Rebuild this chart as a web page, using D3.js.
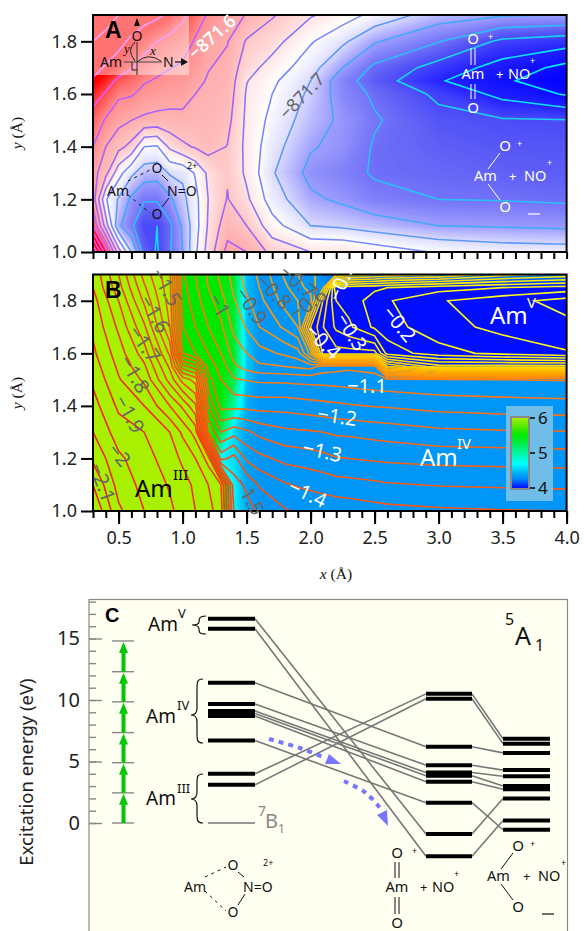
<!DOCTYPE html>
<html>
<head>
<meta charset="utf-8">
<title>Am + NO energy surfaces</title>
<script src="https://d3js.org/d3.v7.min.js"></script>
<style>
html, body { margin: 0; background: #fff; }
svg { display: block; }
text { font-family: "Noto Sans", sans-serif; }
.serif { font-family: "Liberation Serif", serif; }
.tick line { stroke: #000; stroke-width: 2; }
.tick text { fill: #222; font-size: 18px; }
.axisC .tick line { stroke: #888; stroke-width: 1.4; }
</style>
</head>
<body>
<div id="chart"></div>
<script>
// ---- panel A, energy. unit = contour step, 6 is -871.7, 10 is -871.6
const xA = [0.3,0.4,0.5,0.6,0.7,0.8,0.9,1.0,1.1,1.2,1.35,1.5,1.7,2.0,2.25,2.5,3.0,3.5,4.0];
const yA = [1.9,1.8,1.7,1.65,1.6,1.5,1.4,1.3,1.2,1.1,1.0];
const energyA = [
  [14.8,14.4,14,13.7,13.4,13.2,12.8,12.2,11.5,10.9,10.4,9.95,9.1,8.1,7.5,6.7,5.5,5.1,5],
  [14,13.7,13.3,12.8,12.4,12,11.7,11.5,10.9,10.3,10.05,8.9,8.4,7.1,6.2,5.1,4.05,2.8,2.45],
  [13.3,12.9,12.5,12.05,11.6,11.25,11.05,10.85,10.6,10.05,9.75,8.4,7.6,6.4,5,3.8,2.6,1.6,0.7],
  [12.9,12.4,11.8,11.5,11.1,10.9,10.7,10.6,10.3,9.9,9.65,8.05,7.2,6,4.4,3.5,2.1,1.15,0.4],
  [12.4,11.9,11.2,11.1,10.7,10.55,10.4,10.35,10,9.75,9.55,7.9,7,5.8,4.5,3.85,2.8,1.7,0.9],
  [11.6,10.9,10.3,10,9.8,9.7,9.7,9.75,9.6,9.6,9.3,7.8,6.7,5.5,4.8,4.1,3.3,3.1,3.05],
  [11,10,9.3,8.7,7,6.9,8.2,8.8,9.1,9.4,8.97,7.75,6.4,5.1,4.7,3.9,3.55,3.35,3.3],
  [10.4,9.3,7.4,6.2,5.5,5.4,6.1,6.2,7.1,8.2,8.92,7.8,6.1,4.7,4.35,3.9,3.75,3.6,3.5],
  [10.5,7.1,5.9,4.8,4.1,4.1,4.8,5.7,6.7,8,9.05,8.2,6.5,5.2,4.8,4.3,4,3.95,3.85],
  [12,8.5,5.2,4.2,3,3,3.8,5.15,6.6,8.1,9.6,9,7.4,6,5.8,5.5,5,4.9,4.8],
  [16,12.5,8.5,6,3.6,2.9,3.9,5,6.8,8.4,10.3,10,8.7,8,8,7.6,6.9,6.6,6.5]
];
const levelsA = [1,2,3,4,5,6,7,8,9,10,11,12,13,14,15,16];

// ---- panel B, relative energy and Am oxidation state on one grid
const xB = [0.3,0.5,0.7,0.9,1.0,1.1,1.2,1.3,1.4,1.5,1.6,1.8,1.9,2.0,2.1,2.2,2.3,2.5,2.6,3.0,3.5,4.0];
const yB = [1.9,1.85,1.8,1.7,1.6,1.55,1.5,1.4,1.3,1.2,1.1,1.0];
const energyB = [
  [-1.89,-1.75,-1.58,-1.46,-1.16,-1.1,-1.04,-0.985,-0.93,-0.88,-0.84,-0.74,-0.7,-0.66,-0.63,-0.6,-0.58,-0.55,-0.53,-0.5,-0.42,-0.38],
  [-1.9,-1.77,-1.61,-1.465,-1.17,-1.11,-1.05,-1,-0.94,-0.89,-0.85,-0.76,-0.72,-0.68,-0.6,-0.25,-0.27,-0.26,-0.25,-0.22,-0.2,-0.18],
  [-1.92,-1.8,-1.64,-1.475,-1.18,-1.12,-1.07,-1.02,-0.955,-0.91,-0.865,-0.78,-0.75,-0.72,-0.44,-0.3,-0.28,-0.225,-0.205,-0.155,-0.12,-0.08],
  [-1.94,-1.84,-1.71,-1.5,-1.2,-1.15,-1.1,-1.06,-0.985,-0.945,-0.9,-0.84,-0.8,-0.5,-0.4,-0.34,-0.31,-0.24,-0.22,-0.17,-0.135,-0.115],
  [-1.96,-1.875,-1.775,-1.59,-1.25,-1.2,-1.15,-1.1,-1.03,-1,-0.97,-0.94,-0.92,-0.78,-0.42,-0.42,-0.42,-0.42,-0.28,-0.22,-0.185,-0.155],
  [-1.975,-1.89,-1.81,-1.64,-1.42,-1.37,-1.18,-1.13,-1.06,-1.03,-1.01,-1,-0.99,-0.98,-1.02,-1.03,-1.04,-1.03,-0.55,-0.42,-0.42,-0.42],
  [-1.99,-1.905,-1.84,-1.68,-1.58,-1.53,-1.22,-1.15,-1.105,-1.097,-1.09,-1.088,-1.085,-1.083,-1.082,-1.08,-1.075,-1.068,-1.064,-1.055,-1.05,-1.047],
  [-2.02,-1.94,-1.9,-1.8,-1.74,-1.66,-1.3,-1.183,-1.185,-1.183,-1.18,-1.18,-1.175,-1.17,-1.165,-1.16,-1.155,-1.147,-1.145,-1.132,-1.125,-1.12],
  [-2.05,-1.975,-1.95,-1.9,-1.84,-1.78,-1.4,-1.3,-1.33,-1.31,-1.285,-1.262,-1.258,-1.255,-1.25,-1.242,-1.24,-1.232,-1.228,-1.212,-1.206,-1.203],
  [-2.09,-2.01,-1.97,-1.925,-1.89,-1.85,-1.78,-1.43,-1.47,-1.39,-1.365,-1.335,-1.33,-1.323,-1.315,-1.303,-1.3,-1.293,-1.29,-1.283,-1.28,-1.277],
  [-2.15,-2.03,-1.985,-1.945,-1.92,-1.89,-1.85,-1.8,-1.52,-1.49,-1.445,-1.405,-1.395,-1.388,-1.38,-1.372,-1.368,-1.36,-1.355,-1.347,-1.343,-1.34],
  [-2.2,-2.06,-2,-1.96,-1.93,-1.9,-1.87,-1.82,-1.55,-1.52,-1.49,-1.455,-1.445,-1.44,-1.437,-1.433,-1.43,-1.42,-1.416,-1.408,-1.403,-1.4]
];
const stateB = [
  [6,6,6,6,5.5,5.5,5.5,5.5,5.4,4.5,4.35,4.35,4.35,4.35,4.3,4.3,4.3,4.3,4.3,4.3,4.3,4.3],
  [6,6,6,6,5.5,5.5,5.5,5.5,5.4,4.5,4.35,4.35,4.35,4.35,4.35,4.05,4.05,4.05,4.05,4.05,4.05,4.05],
  [6,6,6,6,5.5,5.5,5.5,5.5,5.4,4.5,4.35,4.35,4.35,4.35,4.05,4.05,4.05,4.05,4.05,4.05,4.05,4.05],
  [6,6,6,6,5.5,5.5,5.5,5.5,5.4,4.5,4.35,4.35,4.35,4.05,4.05,4.05,4.05,4.05,4.05,4.05,4.05,4.05],
  [6,6,6,6,5.5,5.5,5.5,5.5,5.4,4.55,4.35,4.35,4.35,4.35,4.05,4.05,4.05,4.05,4.05,4.05,4.05,4.05],
  [6,6,6,6,5.7,5.6,5.5,5.5,5.4,4.55,4.35,4.35,4.35,4.35,4.35,4.35,4.35,4.35,4.1,4.1,4.1,4.1],
  [6,6,6,6,6,6,5.5,5.5,5.3,4.5,4.35,4.35,4.35,4.35,4.35,4.35,4.35,4.35,4.35,4.35,4.35,4.35],
  [6,6,6,6,6,6,5.5,5.5,5,4.45,4.35,4.35,4.35,4.35,4.35,4.35,4.35,4.35,4.35,4.35,4.35,4.35],
  [6,6,6,6,6,6,5.7,5.3,4.6,4.4,4.35,4.35,4.35,4.35,4.35,4.35,4.35,4.35,4.35,4.35,4.35,4.35],
  [6,6,6,6,6,6,6,4.7,4.6,4.4,4.35,4.35,4.35,4.35,4.35,4.35,4.35,4.35,4.35,4.35,4.35,4.35],
  [6,6,6,6,6,6,6,6,4.7,4.42,4.35,4.35,4.35,4.35,4.35,4.35,4.35,4.35,4.35,4.35,4.35,4.35],
  [6,6,6,6,6,6,6,6,4.7,4.42,4.35,4.35,4.35,4.35,4.35,4.35,4.35,4.35,4.35,4.35,4.35,4.35]
];
const levelsB = d3.range(-44, -1).map(k => k * 0.05);

// ---- panel C, excitation energies (eV)
const statesLeft   = [16.6,15.8,11.4,9.67,9.1,8.9,8.7,6.7,4.0,3.1];
const statesMiddle = [-0.9,-2.7,6.2,4.7,4.1,3.85,3.35,1.65,10.5,10.1];
const statesRight  = [2.0,0.2,5.7,4.3,3.8,3.0,2.75,-0.55,6.85,6.45];
const ladder = [0,2.45,4.9,7.35,9.85,12.3,14.8];

// ---- layout
const width = 584, height = 931;
const x = d3.scaleLinear().domain([0.3, 4.0]).range([93, 566.6]);
const yTopA = d3.scaleLinear().domain([1.0, 1.9]).range([252, 15]);
const yTopB = d3.scaleLinear().domain([1.0, 1.9]).range([511, 274.5]);
const yC = d3.scaleLinear().domain([0, 15]).range([823, 638.5]);

const colorA = d3.scaleLinear()
  .domain([0.3,2,3.5,5,6,7,8,9,10,11,12,12.7])
  .range(["#0000ff","#2222ff","#5e5ef6","#a0a0fd","#dcdcff","#ffffff","#ffe4e4","#ffc4c4","#ffacac","#ff8c8c","#ff4848","#ff0000"])
  .clamp(true);
const lineA = d3.scaleLinear()
  .domain([1,3,5,7,9,11,12,13])
  .range(["#00f0ff","#18d4f4","#44a8fa","#7a88ff","#9a68f4","#b860ff","#e858ff","#ff50ff"])
  .clamp(true);
const colorB = d3.scaleLinear()
  .domain([4,4.1,4.3,4.4,4.7,5.2,5.5,6])
  .range(["#0000ff","#0030ff","#0090f8","#00a4f4","#00ffff","#00f060","#00e800","#b0f000"])
  .clamp(true);
const lineB = d3.scaleLinear()
  .domain([-2.2,-1.5,-1.2,-1.0,-0.7,-0.5,-0.3,-0.1])
  .range(["#f01818","#ff4a10","#ff6a10","#ff8410","#ffac00","#ffd000","#fff000","#ffff20"])
  .clamp(true);

const svg = d3.select("#chart").append("svg").attr("width", width).attr("height", height);

// grid index to pixels, grids may be uneven. d3.contours puts a node at index + 0.5
function gridPath(xs, ys, yScale) {
  const ix = d3.scaleLinear().domain(xs.map((d, i) => i + 0.5)).range(xs.map(d => x(d)));
  const iy = d3.scaleLinear().domain(ys.map((d, i) => i + 0.5)).range(ys.map(d => yScale(d)));
  return d3.geoPath(d3.geoTransform({
    point(px, py) { this.stream.point(ix(px), iy(py)); }
  }));
}

function contourLayer(g, grid, xs, ys, yScale, thresholds, style) {
  const contours = d3.contours().size([xs.length, ys.length]).thresholds(thresholds)(grid.flat());
  const path = gridPath(xs, ys, yScale);
  g.append("g").selectAll("path").data(contours).join("path")
    .attr("d", path)
    .each(function(d) { style(d3.select(this), d.value); });
}

function clipped(id, yScale) {
  svg.append("clipPath").attr("id", id).append("rect")
    .attr("x", x(0.3)).attr("y", yScale(1.9))
    .attr("width", x(4) - x(0.3)).attr("height", yScale(1) - yScale(1.9));
  return svg.append("g").attr("clip-path", `url(#${id})`);
}

function axes(yScale, longX) {
  const bottom = yScale(1);
  const minor = d3.axisBottom(x).tickValues(d3.range(3, 41).map(k => k / 10)).tickSize(7).tickFormat("");
  svg.append("g").attr("transform", `translate(0,${bottom})`).call(minor).call(g => g.select(".domain").remove());
  if (longX) {
    const major = d3.axisBottom(x).tickValues([0.5,1,1.5,2,2.5,3,3.5,4]).tickSize(13).tickPadding(7).tickFormat(d3.format(".1f"));
    svg.append("g").attr("transform", `translate(0,${bottom})`).call(major).call(g => g.select(".domain").remove());
  }
  const left = d3.axisLeft(yScale).tickValues([1,1.2,1.4,1.6,1.8]).tickSize(12).tickPadding(4).tickFormat(d3.format(".1f"));
  svg.append("g").attr("transform", `translate(${x(0.3)},0)`).call(left).call(g => g.select(".domain").remove());
  svg.append("rect").attr("x", x(0.3)).attr("y", yScale(1.9))
    .attr("width", x(4) - x(0.3)).attr("height", bottom - yScale(1.9))
    .attr("fill", "none").attr("stroke", "#000").attr("stroke-width", 2);
}

function text(g, px, py, s, size, fill, opts) {
  opts = opts || {};
  const t = g.append("text").attr("x", px).attr("y", py).text(s)
    .attr("font-size", size).attr("fill", fill || "#000")
    .attr("text-anchor", opts.anchor || "start");
  if (opts.bold) t.attr("font-weight", "bold").style("font-family", "'Liberation Sans', sans-serif");
  if (opts.serif) t.attr("class", "serif");
  if (opts.italic) t.attr("font-style", "italic");
  if (opts.rotate != null) t.attr("text-anchor", "middle").attr("dominant-baseline", "middle")
    .attr("transform", `rotate(${opts.rotate} ${px} ${py})`);
  return t;
}

function seg(g, x1, y1, x2, y2, color, w, dash) {
  const l = g.append("line").attr("x1", x1).attr("y1", y1).attr("x2", x2).attr("y2", y2)
    .attr("stroke", color).attr("stroke-width", w || 1);
  if (dash) l.attr("stroke-dasharray", dash);
  return l;
}

function axisTitle(t, letter) {
  t.text(null);
  t.append("tspan").attr("font-style", "italic").text(letter);
  t.append("tspan").text(" (Å)");
}

// ---- panel A
const gA = clipped("clipA", yTopA);
gA.append("rect").attr("x", 0).attr("y", 0).attr("width", width).attr("height", 300).attr("fill", colorA(0));
contourLayer(gA, energyA, xA, yA, yTopA, d3.range(0.3, 12.8, 0.06),
  (p, v) => p.attr("fill", colorA(v)));
contourLayer(gA, energyA, xA, yA, yTopA, levelsA,
  (p, v) => p.attr("fill", "none").attr("stroke", lineA(v)).attr("stroke-width", 1.6));
gA.append("rect").attr("x", 93).attr("y", 15).attr("width", 96).attr("height", 60).attr("fill", "#fff").attr("fill-opacity", 0.45);
axes(yTopA, false);

text(svg, 105, 38, "A", 23, "#000", {bold: true});
text(svg, 213, 38, "−871.6", 18, "#fff", {rotate: -42}).attr("font-weight", 600);
text(svg, 303, 97, "−871.7", 18, "#666", {rotate: -46});

// coordinate sketch in the corner
text(svg, 100, 67, "Am", 14, "#111");
text(svg, 163, 67, "N", 14, "#111");
text(svg, 137, 41, "O", 14, "#111", {anchor: "middle"});
seg(svg, 124, 62, 162, 62, "#444", 1.2);
seg(svg, 137, 42, 137, 75, "#444", 1.2);
seg(svg, 175, 62, 183, 62, "#111", 1.2);
svg.append("path").attr("d", "M181 58 L188 62 L181 66 Z").attr("fill", "#111");
svg.append("path").attr("d", "M134 26 L137 18 L140 26 Z").attr("fill", "#111");
svg.append("path").attr("d", "M135 42 Q126 50 135 61 M137 62 Q148 52 161 61 M132 62 V70 H137").attr("fill", "none").attr("stroke", "#222");
text(svg, 124, 53, "y", 13, "#111", {serif: true, italic: true});
text(svg, 150, 55, "x", 13, "#111", {serif: true, italic: true});

function peroxo(g, ax, nx, base, oTop, oBot, c) {
  text(g, ax, base, "Am", 14, c);
  text(g, nx, base, "N=O", 14, c);
  text(g, nx - 10, oTop + 5, "O", 14, c, {anchor: "middle"});
  text(g, nx - 10, oBot + 5, "O", 14, c, {anchor: "middle"});
  text(g, nx + 20, oTop + 1, "2+", 9, c);
  seg(g, nx - 5, oTop + 7, nx + 1, base - 15, c, 1);
  seg(g, nx + 2, base + 2, nx - 5, oBot - 7, c, 1);
  seg(g, ax + 21, base - 15, nx - 17, oTop + 2, c, 1, "3 4");
  seg(g, ax + 21, base - 1, nx - 17, oBot - 1, c, 1, "3 4");
}
peroxo(svg, 107, 167, 196, 168, 214, "#111");

function dioxo(g, cx, top, base, bot, nox, c) {
  text(g, cx, top + 5, "O", 15, c, {anchor: "middle"});
  text(g, cx, bot + 5, "O", 15, c, {anchor: "middle"});
  text(g, cx + 15, top + 1, "+", 9, c);
  text(g, cx, base, "Am", 14.5, c, {anchor: "middle"});
  text(g, cx + 23, base, "+", 13, c);
  text(g, nox, base, "NO", 14.5, c);
  text(g, nox + 22, base - 15, "+", 9, c);
  [-2, 2].forEach(d => {
    seg(g, cx + d, top + 9, cx + d, base - 14, c, 1);
    seg(g, cx + d, base + 5, cx + d, bot - 9, c, 1);
  });
}
function bent(g, ox, top, amx, base, bot, nox, c) {
  text(g, ox, top + 5, "O", 15, c, {anchor: "middle"});
  text(g, ox, bot + 5, "O", 15, c, {anchor: "middle"});
  text(g, ox + 12, top + 1, "+", 9, c);
  text(g, amx, base, "Am", 14.5, c);
  text(g, nox - 15, base, "+", 13, c);
  text(g, nox, base, "NO", 14.5, c);
  text(g, nox + 23, base - 15, "+", 9, c);
  seg(g, ox - 5, top + 7, amx + 14, base - 12, c, 1);
  seg(g, amx + 14, base + 3, ox - 5, bot - 7, c, 1);
  seg(g, nox + 4, bot + 7, nox + 16, bot + 7, c, 1.2);
}
dioxo(svg, 473, 39, 79, 108, 508, "#fff");
bent(svg, 505, 146, 474, 181, 207, 524, "#fff");

// ---- panel B
const gB = clipped("clipB", yTopB);
gB.append("rect").attr("x", 0).attr("y", 200).attr("width", width).attr("height", 400).attr("fill", colorB(4));
contourLayer(gB, stateB, xB, yB, yTopB, d3.range(4.03, 6.01, 0.03),
  (p, v) => p.attr("fill", colorB(v)));
contourLayer(gB, energyB, xB, yB, yTopB, levelsB,
  (p, v) => p.attr("fill", "none").attr("stroke", lineB(v)).attr("stroke-width", 1.6));
axes(yTopB, true);

text(svg, 105, 298, "B", 23, "#000", {bold: true});
const greyLabels = [
  ["−1.5",165,288,60],["−1.6",153,315,60],["−1.7",143,345,55],["−1.8",133,375,60],
  ["−1.9",128,415,60],["−2",118,456,50],["−2.1",101,483,70],["−1",218,306,60],
  ["−0.9",250,307,55],["−0.8",273,293,45],["−0.7",297,283,40],["−0.6",309,305,-36],["−1.5",248,497,60]
];
const whiteLabels = [
  ["−0.4",322,343,45],["−0.3",350,333,58],["−0.2",398,325,50],["−0.5",343,282,-68],
  ["−1.1",367,388,0],["−1.2",337,418,8],["−1.3",322,453,12],["−1.4",307,495,25]
];
greyLabels.forEach(d => text(svg, d[1], d[2], d[0], 20, "#666", {rotate: d[3]}));
whiteLabels.forEach(d => text(svg, d[1], d[2], d[0], 20, "#fff", {rotate: d[3]}));

text(svg, 135, 497, "Am", 24, "#000");
text(svg, 173, 480, "III", 15, "#000");
text(svg, 490, 324, "Am", 24, "#fff");
text(svg, 527, 308, "V", 15, "#fff");
text(svg, 420, 466, "Am", 24, "#fff");
text(svg, 457, 449, "IV", 15, "#fff");

// colour key
const key = d3.scaleLinear().domain([4, 6]).range([488, 418]);
const grad = svg.append("defs").append("linearGradient").attr("id", "keyGrad").attr("x1", 0).attr("x2", 0).attr("y1", 1).attr("y2", 0);
d3.range(4, 6.01, 0.1).forEach(v => grad.append("stop").attr("offset", `${(v - 4) / 2 * 100}%`).attr("stop-color", colorB(v)));
svg.append("rect").attr("x", 506).attr("y", 406).attr("width", 47).attr("height", 95).attr("fill", "#6fbde8");
svg.append("rect").attr("x", 511).attr("y", 417).attr("width", 18).attr("height", 72)
  .attr("fill", "url(#keyGrad)").attr("stroke", "#888").attr("stroke-width", 2);
[4, 5, 6].forEach(v => {
  seg(svg, 530, key(v), 535, key(v), "#000", 1.5);
  text(svg, 538, key(v) + 6, v, 17, "#111");
});

// axis titles
axisTitle(text(svg, 18, 133, "", 15.5, "#111", {serif: true, rotate: -90}), "y");
axisTitle(text(svg, 18, 393, "", 15.5, "#111", {serif: true, rotate: -90}), "y");
axisTitle(text(svg, 336, 579, "", 15.5, "#111", {serif: true, anchor: "middle"}), "x");

// ---- panel C
svg.append("rect").attr("x", 89).attr("y", 599.5).attr("width", 478.5).attr("height", 340)
  .attr("fill", "#fffff2").attr("stroke", "#8c8c80").attr("stroke-width", 1.2);
const minorC = d3.axisLeft(yC).tickValues(d3.range(0, 19)).tickSize(-7).tickFormat("");
svg.append("g").attr("class", "axisC").attr("transform", "translate(89,0)").call(minorC).call(g => g.select(".domain").remove());
const majorC = d3.axisLeft(yC).tickValues([0,5,10,15]).tickSize(-13).tickPadding(9);
svg.append("g").attr("class", "axisC").attr("transform", "translate(89,0)").call(majorC)
  .call(g => g.select(".domain").remove())
  .call(g => g.selectAll("text").style("font-size", "20px"));
text(svg, 28, 772, "Excitation energy (eV)", 18.5, "#222", {rotate: -90});
text(svg, 105, 622, "C", 20, "#000", {bold: true});

const col1 = [208, 255], col2 = [426, 472], col3 = [503, 550];
statesLeft.forEach((e, i) => seg(svg, col1[1], yC(e), col2[0], yC(statesMiddle[i]), "#777", 1.6));
statesMiddle.forEach((e, i) => seg(svg, col2[1], yC(e), col3[0], yC(statesRight[i]), "#777", 1.6));
[[col1, statesLeft], [col2, statesMiddle], [col3, statesRight]].forEach(([c, vals]) => {
  svg.append("g").selectAll("line").data(vals).join("line")
    .attr("x1", c[0]).attr("x2", c[1]).attr("y1", d => yC(d)).attr("y2", d => yC(d))
    .attr("stroke", "#000").attr("stroke-width", 4);
});
seg(svg, col1[0], yC(0), col1[1], yC(0), "#777", 1.6);

// photon ladder
ladder.forEach(e => seg(svg, 112, yC(e), 134, yC(e), "#888", 1.4));
ladder.slice(1).forEach((e, i) => {
  seg(svg, 123.5, yC(ladder[i]), 123.5, yC(e) + 9, "#00c800", 4);
  svg.append("path").attr("fill", "#00c800")
    .attr("d", `M123.5 ${yC(e) + 1} L128 ${yC(e) + 12} L119 ${yC(e) + 12} Z`);
});

// braces
function brace(g, xr, xl, top, bot, mid) {
  g.append("path").attr("fill", "none").attr("stroke", "#111").attr("stroke-width", 1.2)
    .attr("d", `M${xr} ${top} C${xl} ${top} ${xl} ${top + 3} ${xl} ${top + 10} L${xl} ${mid - 7} C${xl} ${mid - 2} ${xl - 3} ${mid} ${xl - 6} ${mid} C${xl - 3} ${mid} ${xl} ${mid + 2} ${xl} ${mid + 7} L${xl} ${bot - 10} C${xl} ${bot - 3} ${xl} ${bot} ${xr} ${bot}`);
}
brace(svg, 203, 197, 679, 743, 715);
brace(svg, 203, 197, 774, 823, 799);
g_brace_small();
function g_brace_small() {
  svg.append("path").attr("fill", "none").attr("stroke", "#111").attr("stroke-width", 1.2)
    .attr("d", "M206 616 C199 616 199 619 199 622 C199 624 196 625 192 625 C196 625 199 626 199 629 C199 632 199 634 206 634");
}
text(svg, 148, 631, "Am", 19, "#111");
text(svg, 178, 618, "V", 13, "#111");
text(svg, 146, 723, "Am", 19, "#111");
text(svg, 177, 710, "IV", 13, "#111");
text(svg, 146, 805, "Am", 19, "#111");
text(svg, 177, 793, "III", 13, "#111");

text(svg, 258, 816, "7", 14, "#888");
text(svg, 265, 828, "B", 20, "#888");
text(svg, 278, 833, "1", 12, "#888");
text(svg, 505, 625, "5", 16, "#111");
text(svg, 515, 645, "A", 25, "#111");
text(svg, 535, 651, "1", 16, "#111");

// reaction path
const blue = "#7676ff";
const dots = d3.line().curve(d3.curveCatmullRom);
svg.append("path").attr("d", dots([[269,739],[300,748],[323,757]])).attr("fill", "none")
  .attr("stroke", blue).attr("stroke-width", 4).attr("stroke-dasharray", "5 5");
svg.append("path").attr("d", "M329 754 L341 764 L325 764 Z").attr("fill", blue);
svg.append("path").attr("d", dots([[344,781],[366,793],[380,808]])).attr("fill", "none")
  .attr("stroke", blue).attr("stroke-width", 4).attr("stroke-dasharray", "5 5");
svg.append("path").attr("d", "M377 815 L387 810 L388 826 Z").attr("fill", blue);

peroxo(svg, 184, 243, 892, 865, 912, "#111");
dioxo(svg, 397, 853, 892, 923, 432, "#111");
bent(svg, 518, 846, 487, 881, 907, 538, "#111");
</script>
</body>
</html>
